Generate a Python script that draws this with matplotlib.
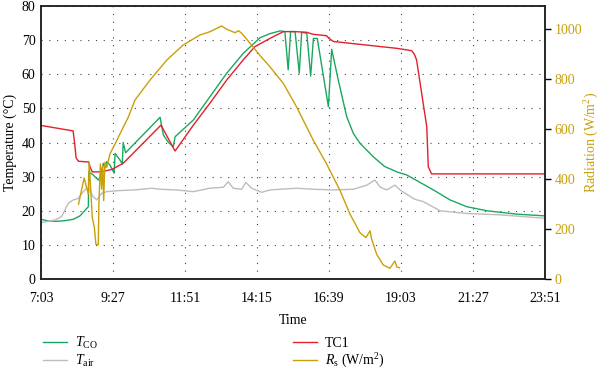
import numpy as np
import matplotlib
matplotlib.use("Agg")
import matplotlib.pyplot as plt

plt.rcParams["font.family"] = ["Liberation Serif", "DejaVu Serif"]
plt.rcParams["mathtext.fontset"] = "custom"
plt.rcParams["mathtext.rm"] = "Liberation Serif"
plt.rcParams["mathtext.it"] = "Liberation Serif:italic"

# time in decimal hours
tick_hours = [7.05, 9.45, 11.85, 14.25, 16.65, 19.05, 21.45, 23.85]
tick_labels = ["7:03", "9:27", "11:51", "14:15", "16:39", "19:03", "21:27", "23:51"]

# T_CO (°C)
t_co = [7.04, 7.30, 7.57, 7.85, 8.13, 8.35, 8.63, 8.64, 8.79, 8.96, 9.02, 9.13, 9.18, 9.24,
        9.35, 9.49, 9.52, 9.68, 9.76, 9.79, 9.87, 11.02, 11.13, 11.30, 11.46, 11.52, 12.13,
        12.68, 13.24, 13.79, 14.35, 14.68, 15.02, 15.18, 15.29, 15.37, 15.52, 15.66, 15.74,
        15.91, 16.04, 16.13, 16.26, 16.63, 16.74, 16.96, 17.24, 17.46, 17.68, 18.13, 18.50,
        18.91, 19.24, 20.13, 20.68, 21.24, 21.91, 22.91, 23.85]
T_co = [17.5, 17.0, 16.9, 17.1, 17.5, 18.5, 21.2, 31.4, 30.5, 29.0, 30.0, 33.9, 32.5, 34.4,
        33.4, 31.0, 36.8, 34.9, 33.7, 40.0, 37.0, 47.4, 42.2, 40.0, 38.8, 41.7, 46.6,
        53.4, 60.3, 66.1, 70.7, 71.9, 72.7, 72.5, 61.3, 72.5, 72.5, 60.3, 72.3,
        72.0, 59.5, 70.5, 70.5, 50.5, 67.3, 58.3, 47.6, 42.7, 39.8, 35.8, 33.0,
        31.4, 30.5, 26.1, 23.2, 21.2, 20.0, 19.0, 18.5]

# T_air (°C)
t_air = [7.04, 7.52, 7.74, 7.96, 8.13, 8.29, 8.41, 8.57, 8.68, 8.79, 8.91, 9.07, 9.24, 9.63,
         10.18, 10.74, 11.02, 11.57, 12.13, 12.68, 13.13, 13.29, 13.46, 13.74, 13.88, 14.07,
         14.41, 14.68, 15.02, 15.57, 16.13, 16.79, 17.46, 17.91, 18.18, 18.35, 18.57, 18.85,
         19.02, 19.46, 19.57, 19.79, 20.35, 21.24, 22.35, 23.85]
T_air = [16.5, 17.3, 18.3, 22.2, 23.2, 23.6, 25.1, 26.6, 26.1, 24.1, 23.2, 25.1, 25.6, 25.9,
         26.1, 26.6, 26.3, 26.1, 25.6, 26.6, 26.9, 28.5, 26.6, 26.3, 28.3, 26.6,
         25.4, 26.1, 26.3, 26.6, 26.3, 26.1, 26.3, 27.5, 29.0, 27.0, 26.1, 27.5,
         26.1, 23.6, 23.2, 22.7, 20.0, 19.2, 18.8, 17.8]

# TC1 (°C)
t_tc1 = [7.05, 8.12, 8.17, 8.22, 8.30, 8.64, 8.70, 8.76, 9.05, 9.41, 9.79, 11.05, 11.52,
         12.13, 12.68, 13.24, 13.79, 14.18, 14.68, 15.13, 15.50, 15.91, 16.12, 16.57, 16.65,
         16.80, 18.91, 19.41, 19.50, 19.57, 19.79, 19.91, 19.96, 20.07, 23.85]
T_tc1 = [45.0, 43.4, 40.0, 35.5, 34.5, 34.3, 32.5, 31.4, 31.4, 32.1, 33.9, 45.1, 37.5,
         45.1, 51.5, 58.3, 64.2, 68.1, 70.5, 72.5, 72.5, 72.3, 71.7, 71.3, 70.5,
         69.6, 67.6, 66.9, 65.8, 64.2, 51.5, 44.6, 32.9, 30.8, 30.8]

# R_s (W/m2)
t_rs = [8.30, 8.35, 8.49, 8.57, 8.63, 8.66, 8.68, 8.76, 8.83, 8.88, 8.96, 8.98, 9.03, 9.07,
        9.11, 9.14, 9.18, 9.24, 9.35, 9.52, 9.74, 9.96, 10.18, 10.68, 11.24, 11.79, 12.35,
        12.68, 13.07, 13.24, 13.52, 13.63, 13.74, 14.02, 14.35, 14.68, 15.13, 15.57, 16.13,
        16.57, 17.02, 17.35, 17.68, 17.88, 18.02, 18.07, 18.24, 18.46, 18.68, 18.85, 18.91,
        19.00]
R_s = [300, 327, 405, 367, 340, 467, 420, 246, 206, 139, 137, 300, 461, 360,
       454, 314, 467, 447, 501, 541, 595, 648, 716, 796, 876, 937, 977,
       990, 1013, 1000, 986, 994, 984, 944, 895, 850, 783, 689, 555,
       461, 354, 260, 186, 166, 193, 160, 99, 56, 43, 72, 48,
       45]

green = "#1aa860"
gray = "#bdbdbd"
red = "#e3202b"
gold = "#c9a00a"

fig = plt.figure(figsize=(6, 3.69), dpi=100)
ax = fig.add_axes([0.0683, 0.2439, 0.8400, 0.7398])
ax2 = ax.twinx()

l1, = ax.plot(t_co, T_co, color=green, lw=1.0, label=r"$T_{\mathrm{CO}}$")
l2, = ax.plot(t_air, T_air, color=gray, lw=1.0, label=r"$T_{\mathrm{air}}$")
l3, = ax.plot(t_tc1, T_tc1, color=red, lw=1.0, label="TC1")
l4, = ax2.plot(t_rs, R_s, color=gold, lw=1.0, label=r"$R_{\mathrm{s}}$ (W/m$^2$)")

ax.set_xlim(7.05, 23.85)
ax.set_ylim(0, 80)
ax2.set_ylim(0, 1093)
ax.set_xticks(tick_hours)
ax.set_xticklabels(tick_labels)
ax.set_yticks(range(0, 81, 10))
ax2.set_yticks(range(0, 1001, 200))

ax.grid(True, color="#444444", lw=0.8, linestyle=(0, (1, 6)))
ax.tick_params(axis="y", length=0, labelsize=10, pad=4)
ax.tick_params(axis="x", length=0, labelsize=10, pad=9)
ax2.tick_params(axis="y", length=4, width=1, labelsize=10, labelcolor=gold, pad=3)
for a in (ax, ax2):
    for s in a.spines.values():
        s.set_linewidth(1.1)
        s.set_color("#222222")

ax.set_xlabel("Time", fontsize=10, labelpad=7)
ax.set_ylabel("Temperature (°C)", fontsize=10, labelpad=3)
ax2.set_ylabel("Radiation (W/m$^2$)", fontsize=10, color=gold, labelpad=0)

fig.legend(handles=[l1, l2, l3, l4], ncol=2, frameon=False, fontsize=10,
           loc="upper left", bbox_to_anchor=(0.062, 0.108), columnspacing=14.0,
           handlelength=1.75, handletextpad=0.6, labelspacing=0.15,
           borderaxespad=0)

fig.savefig("out.png", dpi=100)
